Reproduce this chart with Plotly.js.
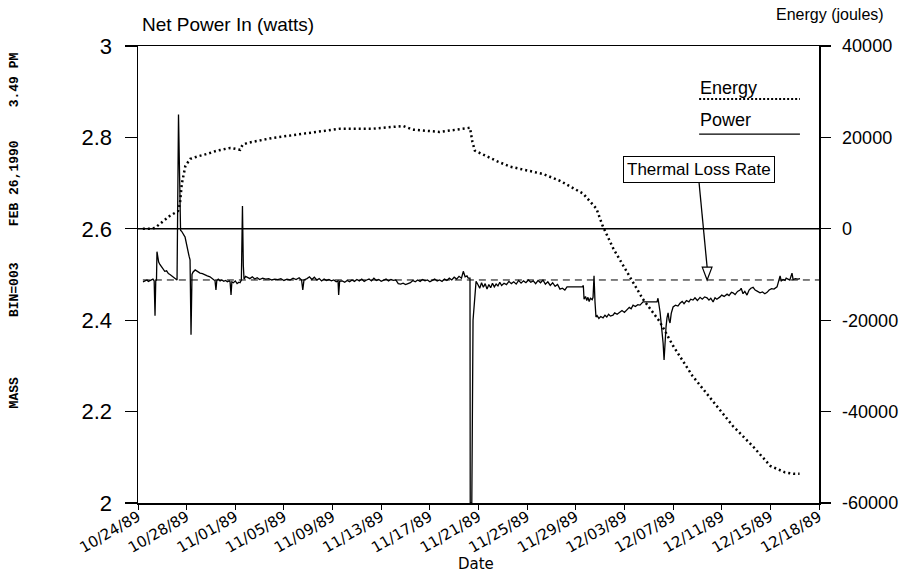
<!DOCTYPE html>
<html>
<head>
<meta charset="utf-8">
<script src="https://cdn.plot.ly/plotly-3.0.1.min.js"></script>
<style>html,body{margin:0;padding:0;background:#fff;}#chart{width:907px;height:573px;}</style>
</head>
<body>
<div id="chart"></div>
<script>
// ---- Data (x in days since 10/24/89) ----
const dateTickDays = [0,4,8,12,16,20,24,28,32,36,40,44,48,52,56];
const dateTickLabels = ["10/24/89","10/28/89","11/01/89","11/05/89","11/09/89","11/13/89","11/17/89","11/21/89","11/25/89","11/29/89","12/03/89","12/07/89","12/11/89","12/15/89","12/18/89"];

const powerTickVals = [2,2.2,2.4,2.6,2.8,3];
const powerTickText = ["2","2.2","2.4","2.6","2.8","3"];
const energyTickVals = [-60000,-40000,-20000,0,20000,40000];
const energyTickText = ["-60000","-40000","-20000","0","20000","40000"];

const thermalLossRate = 2.488;

const energyDays = [0.4,1.0,1.4,1.8,2.6,3.3,3.45,3.6,3.9,4.3,4.85,5.7,6.5,7.6,8.4,8.6,9.0,11.1,13.9,16.6,19.3,21.8,22.6,24.8,27.3,27.5,27.7,28.7,29.6,30.6,33.3,34.7,36.6,37.7,38.2,39.1,40.2,41.5,42.9,44.0,45.6,47.3,48.9,50.6,52.0,53.2,53.9,54.4];
const energyJoules = [0,0,200,1100,2800,3900,5500,9800,13800,15300,15800,16400,17100,17700,17300,18400,18800,19900,21000,21900,21900,22500,21700,21200,22100,19000,17100,15800,14700,13600,12000,10500,7700,4400,700,-4400,-9400,-15300,-20300,-25600,-32200,-37900,-43100,-47700,-51900,-53300,-53600,-53600];

const powerDays = [
0.41,0.6,0.74,0.85,0.99,1.1,1.23,1.33,1.40,1.46,1.52,1.56,1.62,1.7,1.8,1.9,2.06,2.2,2.35,2.5,2.63,2.8,2.95,3.1,3.21,3.33,3.4,3.5,3.6,3.7,3.8,3.87,3.95,4.05,4.11,4.2,4.28,4.36,4.44,4.52,4.7,4.85,5.0,5.1,5.3,5.5,5.7,5.92,6.1,6.25,6.33,6.41,6.48,6.6,6.75,6.9,7.05,7.2,7.35,7.5,7.57,7.65,7.72,7.85,8.0,8.15,8.3,8.39,8.5,8.59,8.66,8.72,8.85,9.0,
9.2,9.4,9.6,9.8,10.0,10.25,10.5,10.75,11.0,11.25,11.5,11.75,12.0,12.25,12.5,12.75,13.0,13.25,13.45,13.55,13.65,13.9,14.1,14.3,14.5,14.7,14.9,15.1,15.3,15.5,15.7,15.9,16.1,16.3,16.45,16.5,16.58,16.8,17.0,17.2,17.4,17.6,17.8,18.0,18.2,18.4,18.6,18.8,19.0,19.2,19.4,19.6,19.8,20.0,20.2,20.4,20.6,20.8,21.0,21.2,21.4,21.6,21.8,22.0,22.2,22.4,22.6,22.8,23.0,23.2,23.4,23.6,23.8,24.0,24.2,24.4,24.6,24.8,25.0,25.2,25.4,25.6,25.8,26.0,26.2,26.4,26.6,26.75,26.9,27.05,27.15,
27.3,27.32,27.45,27.55,27.65,27.8,27.95,28.1,28.25,28.4,28.55,28.7,28.85,29.0,29.15,29.3,29.45,29.6,29.75,29.9,30.1,30.3,30.5,30.7,30.9,31.1,31.3,31.5,31.7,31.9,32.1,32.3,32.5,32.7,32.9,33.1,33.3,33.5,33.7,33.9,34.1,34.3,34.5,34.7,34.9,35.1,35.28,36.55,36.62,36.68,36.8,36.9,37.0,37.1,37.2,37.35,37.42,37.5,37.58,37.66,37.75,37.9,38.05,38.24,38.4,38.55,38.7,38.85,39.06,39.2,39.4,39.64,39.8,40.0,40.21,40.4,40.55,40.71,40.9,41.1,41.28,41.45,41.53,42.68,42.76,42.93,43.09,43.18,43.26,43.34,43.42,43.5,43.59,43.67,43.75,43.85,44.0,44.2,44.4,44.57,44.75,44.9,45.1,45.3,45.45,45.64,45.8,46.0,46.22,46.4,46.6,46.79,46.95,47.1,47.29,47.45,47.6,47.86,48.0,48.2,48.44,48.6,48.8,48.93,49.1,49.3,49.51,49.6,49.75,49.9,50.08,50.25,50.4,50.58,50.75,50.95,51.15,51.35,51.55,51.73,51.9,52.1,52.3,52.55,52.7,52.8,52.9,53.04,53.2,53.3,53.45,53.6,53.78,53.87,54.05,54.28,54.44];
const powerWatts = [
2.484,2.486,2.488,2.485,2.487,2.489,2.49,2.486,2.41,2.486,2.488,2.55,2.535,2.527,2.522,2.518,2.51,2.507,2.508,2.502,2.5,2.497,2.494,2.491,2.488,2.85,2.7,2.597,2.594,2.588,2.585,2.582,2.57,2.556,2.547,2.54,2.532,2.368,2.5,2.505,2.51,2.507,2.505,2.503,2.502,2.499,2.497,2.495,2.49,2.488,2.487,2.466,2.487,2.49,2.486,2.488,2.485,2.487,2.484,2.486,2.484,2.455,2.484,2.482,2.486,2.48,2.483,2.482,2.488,2.65,2.52,2.49,2.496,2.493,
2.491,2.495,2.490,2.493,2.489,2.492,2.490,2.491,2.488,2.490,2.489,2.491,2.487,2.490,2.488,2.492,2.489,2.493,2.488,2.466,2.488,2.491,2.495,2.489,2.494,2.488,2.491,2.486,2.490,2.487,2.489,2.486,2.488,2.484,2.486,2.455,2.485,2.486,2.483,2.487,2.484,2.488,2.485,2.489,2.486,2.490,2.485,2.488,2.490,2.486,2.492,2.487,2.489,2.485,2.488,2.490,2.486,2.489,2.487,2.488,2.480,2.479,2.481,2.478,2.480,2.482,2.487,2.484,2.488,2.485,2.489,2.486,2.488,2.484,2.487,2.490,2.486,2.488,2.485,2.490,2.487,2.492,2.488,2.494,2.490,2.496,2.492,2.507,2.495,2.497,2.492,
2.492,2.0,2.0,2.40,2.44,2.485,2.478,2.470,2.482,2.472,2.480,2.468,2.478,2.471,2.481,2.473,2.479,2.475,2.483,2.476,2.481,2.478,2.485,2.480,2.484,2.479,2.487,2.481,2.486,2.482,2.488,2.483,2.486,2.480,2.487,2.482,2.488,2.479,2.484,2.476,2.482,2.474,2.478,2.468,2.470,2.466,2.473,2.473,2.476,2.446,2.452,2.443,2.450,2.441,2.448,2.445,2.450,2.497,2.44,2.407,2.41,2.404,2.408,2.405,2.411,2.407,2.413,2.409,2.411,2.416,2.413,2.418,2.421,2.417,2.424,2.428,2.425,2.433,2.430,2.434,2.433,2.437,2.440,2.440,2.448,2.418,2.378,2.35,2.313,2.36,2.385,2.405,2.416,2.40,2.394,2.415,2.429,2.433,2.431,2.437,2.441,2.436,2.443,2.440,2.446,2.444,2.449,2.443,2.450,2.446,2.451,2.449,2.444,2.448,2.440,2.449,2.446,2.451,2.455,2.452,2.457,2.454,2.461,2.460,2.456,2.463,2.466,2.470,2.458,2.463,2.455,2.466,2.470,2.472,2.466,2.463,2.460,2.462,2.458,2.461,2.466,2.469,2.468,2.473,2.485,2.497,2.486,2.489,2.487,2.492,2.490,2.488,2.503,2.489,2.491,2.490,2.491];

const FONT = "Liberation Sans, Arial, sans-serif";
const TICKFONT = "DejaVu Sans, Liberation Sans, sans-serif";
const MONO = "Liberation Mono, DejaVu Sans Mono, monospace";

const traces = [
  {x: energyDays, y: energyJoules, yaxis: 'y2', type: 'scatter', mode: 'lines',
   line: {color: '#000', width: 2.5, dash: '2px,3px'}, name: 'Energy', hoverinfo: 'skip'},
  {x: powerDays, y: powerWatts, yaxis: 'y', type: 'scatter', mode: 'lines',
   line: {color: '#000', width: 1.3}, name: 'Power', hoverinfo: 'skip'}
];

// arrow geometry (layout decoration)
const arrowTipDay = 46.8;
const arrowHalf = 0.4;       // days
const arrowHeadLen = 0.028;  // watts
const layout = {
  width: 907, height: 573,
  margin: {l: 138, r: 88, t: 46, b: 70, pad: 0},
  paper_bgcolor: '#fff', plot_bgcolor: '#fff',
  showlegend: false,
  font: {family: FONT, color: '#000'},
  xaxis: {
    range: [0, 56], tickmode: 'array', tickvals: dateTickDays, ticktext: dateTickLabels,
    tickangle: -30, ticks: 'outside', ticklen: 5, tickwidth: 1, tickcolor: '#000',
    showline: true, linecolor: '#000', linewidth: 1.5, mirror: true,
    showgrid: false, zeroline: false, tickfont: {size: 15, family: TICKFONT}, ticklabelstandoff: -7
  },
  yaxis: {
    range: [2, 3], tickmode: 'array', tickvals: powerTickVals, ticktext: powerTickText,
    ticks: 'outside', ticklen: 12, tickwidth: 1.2, tickcolor: '#000',
    showline: true, linecolor: '#000', linewidth: 1.5,
    showgrid: false, zeroline: false, tickfont: {size: 22, family: FONT}, ticklabelstandoff: 8
  },
  yaxis2: {
    overlaying: 'y', side: 'right', range: [-60000, 40000], tickmode: 'array',
    tickvals: energyTickVals, ticktext: energyTickText,
    ticks: 'outside', ticklen: 10, tickwidth: 1.2, tickcolor: '#000',
    showline: true, linecolor: '#000', linewidth: 1.5,
    showgrid: false, zeroline: false, tickfont: {size: 18, family: FONT}, ticklabelstandoff: 8
  },
  shapes: [
    {type: 'line', xref: 'x', yref: 'y2', x0: 0, x1: 56, y0: 0, y1: 0, line: {color: '#000', width: 1.5}},
    {type: 'line', xref: 'x', yref: 'y', x0: 0.4, x1: 56, y0: thermalLossRate, y1: thermalLossRate, line: {color: '#000', width: 1, dash: '7px,5px'}},
    // legend samples
    {type: 'line', xref: 'paper', yref: 'paper', x0: 0.824, x1: 0.972, y0: 0.884, y1: 0.884, line: {color: '#000', width: 2, dash: '2px,2px'}},
    {type: 'line', xref: 'paper', yref: 'paper', x0: 0.824, x1: 0.972, y0: 0.807, y1: 0.807, line: {color: '#000', width: 1.3}},
    // arrow stem
    {type: 'line', xref: 'x', yref: 'y', x0: 46.13, y0: 2.703, x1: arrowTipDay, y1: thermalLossRate + arrowHeadLen, line: {color: '#000', width: 1.3}},
    // hollow arrow head
    {type: 'path', xref: 'x', yref: 'y',
     path: 'M ' + (arrowTipDay - arrowHalf) + ' ' + (thermalLossRate + arrowHeadLen) + ' L ' + (arrowTipDay + arrowHalf) + ' ' + (thermalLossRate + arrowHeadLen) + ' L ' + arrowTipDay + ' ' + thermalLossRate + ' Z',
     fillcolor: '#fff', line: {color: '#000', width: 1.2}}
  ],
  annotations: [
    {text: 'Net Power In (watts)', xref: 'paper', yref: 'paper', x: 0.003, y: 1.02, xanchor: 'left', yanchor: 'bottom', showarrow: false, font: {size: 19, family: FONT}},
    {text: 'Energy (joules)', xref: 'paper', yref: 'paper', x: 1.098, y: 1.045, xanchor: 'right', yanchor: 'bottom', showarrow: false, font: {size: 16, family: FONT}},
    {text: 'Date', xref: 'paper', yref: 'paper', x: 0.496, y: -0.133, xanchor: 'center', yanchor: 'middle', showarrow: false, font: {size: 15, family: TICKFONT}},
    {text: 'Energy', xref: 'paper', yref: 'paper', x: 0.822, y: 0.908, xanchor: 'left', yanchor: 'middle', showarrow: false, font: {size: 18, family: FONT}},
    {text: 'Power', xref: 'paper', yref: 'paper', x: 0.822, y: 0.838, xanchor: 'left', yanchor: 'middle', showarrow: false, font: {size: 18, family: FONT}},
    {text: 'Thermal Loss Rate', xref: 'paper', yref: 'paper', x: 0.824, y: 0.730, xanchor: 'center', yanchor: 'middle', showarrow: false, font: {size: 17, family: FONT}, bordercolor: '#000', borderwidth: 1, borderpad: 3, bgcolor: '#fff'},
    {text: '3.49 PM', xref: 'paper', yref: 'paper', x: -0.182, y: 0.925, xanchor: 'center', yanchor: 'middle', textangle: -90, showarrow: false, font: {size: 13, family: MONO, weight: 'bold'}},
    {text: 'FEB 26,1990', xref: 'paper', yref: 'paper', x: -0.182, y: 0.700, xanchor: 'center', yanchor: 'middle', textangle: -90, showarrow: false, font: {size: 13, family: MONO, weight: 'bold'}},
    {text: 'BIN=003', xref: 'paper', yref: 'paper', x: -0.182, y: 0.466, xanchor: 'center', yanchor: 'middle', textangle: -90, showarrow: false, font: {size: 13, family: MONO, weight: 'bold'}},
    {text: 'MASS', xref: 'paper', yref: 'paper', x: -0.182, y: 0.240, xanchor: 'center', yanchor: 'middle', textangle: -90, showarrow: false, font: {size: 13, family: MONO, weight: 'bold'}}
  ]
};

Plotly.newPlot('chart', traces, layout, {displayModeBar: false, staticPlot: true});
</script>
</body>
</html>
